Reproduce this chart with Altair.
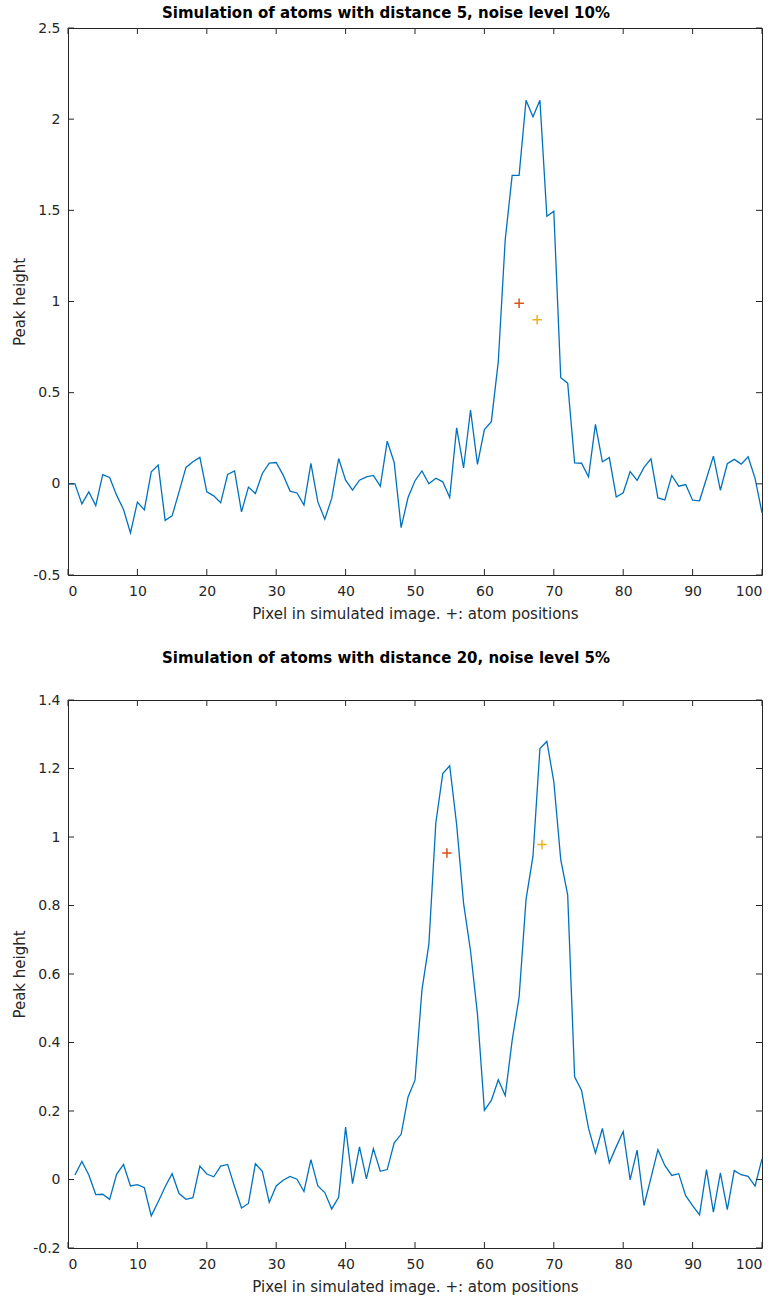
import altair as alt
import pandas as pd

# ---------------- data ----------------
top_x = list(range(0, 101))
top_y = [0, 0, -0.11, -0.044, -0.119, 0.051, 0.035, -0.062, -0.141, -0.269,
         -0.1, -0.143, 0.066, 0.103, -0.2, -0.176, -0.044, 0.09, 0.121, 0.145,
         -0.044, -0.066, -0.104, 0.051, 0.071, -0.154, -0.018, -0.053, 0.057, 0.114,
         0.117, 0.048, -0.04, -0.05, -0.117, 0.112, -0.099, -0.194, -0.08, 0.139,
         0.02, -0.035, 0.02, 0.038, 0.046, -0.013, 0.234, 0.117, -0.24, -0.075,
         0.017, 0.071, 0.0, 0.031, 0.011, -0.075, 0.307, 0.087, 0.405, 0.107,
         0.298, 0.341, 0.670, 1.339, 1.692, 1.692, 2.104, 2.013, 2.104, 1.467,
         1.495, 0.582, 0.552, 0.115, 0.113, 0.038, 0.326, 0.121, 0.144, -0.072,
         -0.049, 0.067, 0.019, 0.09, 0.137, -0.077, -0.088, 0.046, -0.013, -0.004,
         -0.09, -0.093, 0.029, 0.152, -0.035, 0.11, 0.134, 0.108, 0.148, 0.03,
         -0.159]

bot_x = list(range(1, 101))
bot_y = [0.013, 0.053, 0.013, -0.044, -0.043, -0.058, 0.015, 0.044, -0.019, -0.015,
         -0.024, -0.106, -0.065, -0.021, 0.017, -0.041, -0.058, -0.053, 0.039, 0.016,
         0.008, 0.039, 0.044, -0.021, -0.083, -0.07, 0.046, 0.024, -0.067, -0.019,
         -0.002, 0.009, 0.001, -0.035, 0.058, -0.019, -0.038, -0.086, -0.052, 0.153,
         -0.012, 0.095, 0.002, 0.09, 0.024, 0.029, 0.107, 0.132, 0.241, 0.29,
         0.553, 0.687, 1.041, 1.185, 1.208, 1.036, 0.806, 0.668, 0.483, 0.202,
         0.231, 0.291, 0.245, 0.406, 0.532, 0.818, 0.944, 1.258, 1.279, 1.162,
         0.934, 0.831, 0.3, 0.26, 0.15, 0.077, 0.149, 0.049, 0.096, 0.14,
         -0.001, 0.086, -0.076, 0.005, 0.087, 0.041, 0.012, 0.017, -0.047, -0.076,
         -0.103, 0.029, -0.095, 0.019, -0.088, 0.026, 0.014, 0.009, -0.019, 0.06]

top_atoms_x = [65.0, 67.6]
top_atoms_y = [0.99, 0.90]
bot_atoms_x = [54.6, 68.3]
bot_atoms_y = [0.953, 0.978]
atom_names = ["atom 1", "atom 2"]
atom_colors = ["#D95319", "#EDB120"]

x_ticks = [0, 10, 20, 30, 40, 50, 60, 70, 80, 90, 100]
top_y_ticks = [-0.5, 0, 0.5, 1, 1.5, 2, 2.5]
bot_y_ticks = [-0.2, 0, 0.2, 0.4, 0.6, 0.8, 1, 1.2, 1.4]

top_title = "Simulation of atoms with distance 5, noise level 10%"
bot_title = "Simulation of atoms with distance 20, noise level 5%"
x_title = "Pixel in simulated image. +: atom positions"
y_title = "Peak height"

W = 694
TICK = 6
TXT = "#262626"
FONT = "DejaVu Sans"
PLUS = "M-1,0L1,0M0,-1L0,1"

label_expr = "replace(format(datum.value, '~g'), '\u2212', '-')"


def panel(xs, ys, ax, ay, yticks, ydom, title, H, title_offset):
    line_df = pd.DataFrame({"x": xs, "y": ys})
    atom_df = pd.DataFrame({"x": ax, "y": ay, "atom": atom_names})
    xt_df = pd.DataFrame({"t": x_ticks})
    yt_df = pd.DataFrame({"t": yticks})

    xscale = alt.Scale(domain=[0, 100], nice=False, zero=False)
    yscale = alt.Scale(domain=ydom, nice=False, zero=False)

    xaxis = alt.Axis(values=x_ticks, title=x_title, domain=False, ticks=False,
                     grid=False, labelPadding=9, titlePadding=8,
                     labelExpr=label_expr, labelFont=FONT, labelFontSize=14,
                     labelColor=TXT, titleFont=FONT, titleFontSize=15,
                     titleFontWeight="normal", titleColor=TXT)
    yaxis = alt.Axis(values=yticks, title=y_title, domain=False, ticks=False,
                     grid=False, labelPadding=8, titlePadding=5,
                     labelExpr=label_expr, labelFont=FONT, labelFontSize=14,
                     labelColor=TXT, titleFont=FONT, titleFontSize=15,
                     titleFontWeight="normal", titleColor=TXT)

    line = alt.Chart(line_df).mark_line(color="#0072BD", strokeWidth=1.3).encode(
        x=alt.X("x:Q", scale=xscale, axis=xaxis),
        y=alt.Y("y:Q", scale=yscale, axis=yaxis),
    )
    atoms = alt.Chart(atom_df).mark_point(shape=PLUS, size=90, filled=False,
                                          strokeWidth=1.5, opacity=1).encode(
        x="x:Q", y="y:Q",
        color=alt.Color("atom:N", scale=alt.Scale(domain=atom_names, range=atom_colors),
                        legend=None),
    )
    xb = alt.Chart(xt_df).mark_rule(color=TXT, strokeWidth=1).encode(
        x="t:Q", y=alt.value(H), y2=alt.value(H - TICK))
    xtp = alt.Chart(xt_df).mark_rule(color=TXT, strokeWidth=1).encode(
        x="t:Q", y=alt.value(0), y2=alt.value(TICK))
    yl = alt.Chart(yt_df).mark_rule(color=TXT, strokeWidth=1).encode(
        y="t:Q", x=alt.value(0), x2=alt.value(TICK))
    yr = alt.Chart(yt_df).mark_rule(color=TXT, strokeWidth=1).encode(
        y="t:Q", x=alt.value(W), x2=alt.value(W - TICK))

    return alt.layer(line, xb, xtp, yl, yr, atoms).properties(
        width=W, height=H,
        title=alt.TitleParams(title, font=FONT, fontSize=15, fontWeight="bold",
                              color="#000000", offset=title_offset,
                              anchor="middle", dx=-29),
    )


top = panel(top_x, top_y, top_atoms_x, top_atoms_y, top_y_ticks, [-0.5, 2.5],
            top_title, 547, 0)
bot = panel(bot_x, bot_y, bot_atoms_x, bot_atoms_y, bot_y_ticks, [-0.2, 1.4],
            bot_title, 548, 27)

chart = alt.vconcat(top, bot, spacing=28).properties(
    padding={"left": 12, "top": 5, "right": 5, "bottom": 5},
    background="white",
).configure_view(
    stroke=TXT, strokeWidth=1
)

chart.save("out.html", embed_options={"renderer": "svg", "actions": False})
